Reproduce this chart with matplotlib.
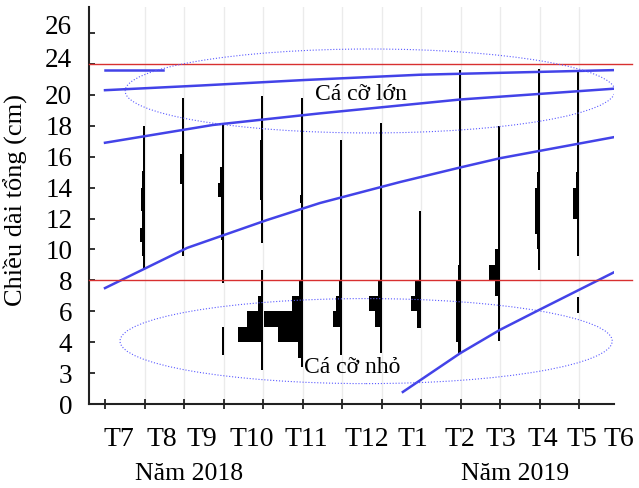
import matplotlib
matplotlib.use('Agg')
import matplotlib.pyplot as plt
from matplotlib.patches import Ellipse
from matplotlib.transforms import blended_transform_factory, ScaledTranslation

plt.rcParams['font.family'] = ['Liberation Serif', 'DejaVu Serif']

# truc y: vi tri (cm, thang goc 0..24) va nhan hien thi
y_ticks = [0, 2, 4, 6, 8, 10, 12, 14, 16, 18, 20, 22, 24]
y_labels = ['0', '3', '4', '6', '8', '10', '12', '14', '16', '18', '20', '24', '26']

# thang mau
thang = ['T7', 'T8', 'T9', 'T10', 'T11', 'T12', 'T1', 'T2', 'T3', 'T4', 'T5', 'T6']
thang_x = [0.35, 1.44, 2.46, 3.72, 5.09, 6.63, 7.80, 8.99, 10.03, 11.09, 12.08, 13.0]
mau_x = [1, 2, 3, 4, 5, 6, 7, 8, 9, 10, 11, 12]

# tan so chieu dai moi lan thu mau: (tu cm, den cm, tan so)
t7 = [(8.7, 9.6, 2), (9.6, 10.5, 3), (10.5, 11.4, 5), (11.4, 12.5, 2.5), (12.5, 14, 4), (14, 15.1, 2.5), (15.1, 18, 2)]
t8 = [(9.6, 14.2, 2.5), (14.2, 16.2, 4), (16.2, 19.8, 2)]
t9 = [(3.2, 5.0, 2), (7.8, 10.6, 2), (10.6, 12.5, 2.5), (12.5, 13.4, 3), (13.4, 14.3, 6), (14.3, 15.3, 3.5), (15.3, 18.2, 2)]
t10 = [(2.2, 4, 2), (4, 5, 25), (5, 6, 16), (6, 7, 5), (7, 8.7, 2), (10.4, 13.2, 2), (13.2, 17.1, 3), (17.1, 19.9, 2)]
t11 = [(2.4, 3, 2), (3, 4, 5), (4, 5, 25), (5, 6, 39), (6, 7, 11), (7, 8, 4), (8, 13, 2), (13, 13.5, 3), (13.5, 19.8, 2)]
t12 = [(3.2, 5, 2), (5, 6, 9), (6, 7, 6), (7, 8, 3), (8, 14.3, 2), (14.3, 15.1, 2.5), (15.1, 17.1, 2)]
t1 = [(3.3, 5, 2), (5, 6, 7), (6, 7, 13), (7, 8, 4), (8, 18.2, 2)]
t2 = [(4.9, 6, 4), (6, 7, 10), (7, 8, 6), (8, 12.5, 2)]
t3 = [(3.3, 4, 2.5), (4, 8, 4.5), (8, 9, 2.5), (9, 21.6, 2)]
t4 = [(4.1, 7, 2), (7, 8, 5), (8, 9, 11), (9, 10, 5), (10, 11, 2.5), (11, 18, 2)]
t5 = [(8.7, 10, 2), (10, 11, 3), (11, 14, 5), (14, 15, 3), (15, 21.7, 2)]
t6 = [(5.9, 6.9, 2), (9.6, 12, 2), (12, 14, 6), (14, 15, 3), (15, 21.6, 2)]
tan_so = [t7, t8, t9, t10, t11, t12, t1, t2, t3, t4, t5, t6]

# duong tang truong (doc tu hinh)
c1_x, c1_y = [0, 1.47], [21.6, 21.6]
c2_x, c2_y = [0, 2.4, 5.06, 7.97, 12.9], [20.3, 20.6, 20.96, 21.3, 21.6]
c3_x, c3_y = [0, 2.73, 5.44, 9.0, 12.9], [16.9, 18.05, 18.8, 19.7, 20.4]
c4_x, c4_y = [0, 2.08, 4.1, 5.44, 7.47, 8.99, 10.0, 12.9], [7.5, 10.1, 11.9, 13.0, 14.36, 15.3, 15.9, 17.27]
c5_x, c5_y = [7.54, 9.0, 10.0, 11.0, 12.9], [0.78, 3.3, 4.8, 6.1, 8.54]

nhom_lon = 22
nhom_nho = 8

fig = plt.figure(figsize=(6.39, 4.88), dpi=100)
ax = fig.add_axes([0.1393, 0.1721, 0.8216, 0.8135])
ax.set_xlim(-0.405, 12.886)
ax.set_ylim(0, 25.68)

for x in mau_x:
    ax.axvline(x, color='#ebebeb', lw=1, zorder=0)

scale = 1 / 39.5
for x, ds in zip(mau_x, tan_so):
    for lo, hi, f in ds:
        ax.barh(lo, -f * scale, height=hi - lo, left=x, align='edge',
                color='black', linewidth=0, zorder=2)

for cx, cy in [(c1_x, c1_y), (c2_x, c2_y), (c3_x, c3_y), (c4_x, c4_y), (c5_x, c5_y)]:
    ax.plot(cx, cy, color='#4343e8', lw=1.8, zorder=3)

for yv in [nhom_lon, nhom_nho]:
    ax.plot([-0.405, 13.34], [yv, yv], color='#d83030', lw=1.0, clip_on=False, zorder=3)

ax.add_patch(Ellipse((6.71, 20.25), 12.4, 5.43, fill=False, ec='#5a5aff', lw=0.8, ls=':', zorder=3))
ax.add_patch(Ellipse((6.61, 4.07), 12.46, 5.5, fill=False, ec='#5a5aff', lw=0.8, ls=':', zorder=3))

ax.text(5.32, 19.66, 'Cá cỡ lớn', fontsize=17, ha='left', va='baseline', zorder=4)
ax.text(5.04, 2.0, 'Cá cỡ nhỏ', fontsize=17, ha='left', va='baseline', zorder=4)

ax.spines['top'].set_visible(False)
ax.spines['right'].set_visible(False)
for s in ['left', 'bottom']:
    ax.spines[s].set_linewidth(1.5)
    ax.spines[s].set_color('#222222')

ax.set_yticks(y_ticks, y_labels, fontsize=19.5)
ax.tick_params(axis='y', direction='in', length=4, width=1.3, pad=12, color='#222222')
# nhan 24 va 26 hoi lech len tren
lbls = ax.get_yticklabels()
lbls[-2].set_transform(lbls[-2].get_transform() + ScaledTranslation(0, 6 / 100, fig.dpi_scale_trans))
lbls[-1].set_transform(lbls[-1].get_transform() + ScaledTranslation(0, 8 / 100, fig.dpi_scale_trans))

ax.set_xticks(range(13), [])
ax.tick_params(axis='x', direction='inout', length=7, width=1.3, color='#222222')

tr = blended_transform_factory(ax.transData, ax.transAxes)
for lab, x in zip(thang, thang_x):
    ax.text(x, -0.09, lab, transform=tr, fontsize=20, ha='center', va='center', clip_on=False)
ax.text(2.13, -0.176, 'Năm 2018', transform=tr, fontsize=18.5, ha='center', va='center')
ax.text(10.38, -0.176, 'Năm 2019', transform=tr, fontsize=18.5, ha='center', va='center')

ax.set_ylabel('Chiều dài tổng (cm)', fontsize=19)
ax.yaxis.set_label_coords(-0.116, 0.514)

fig.savefig('out.png', dpi=100)
